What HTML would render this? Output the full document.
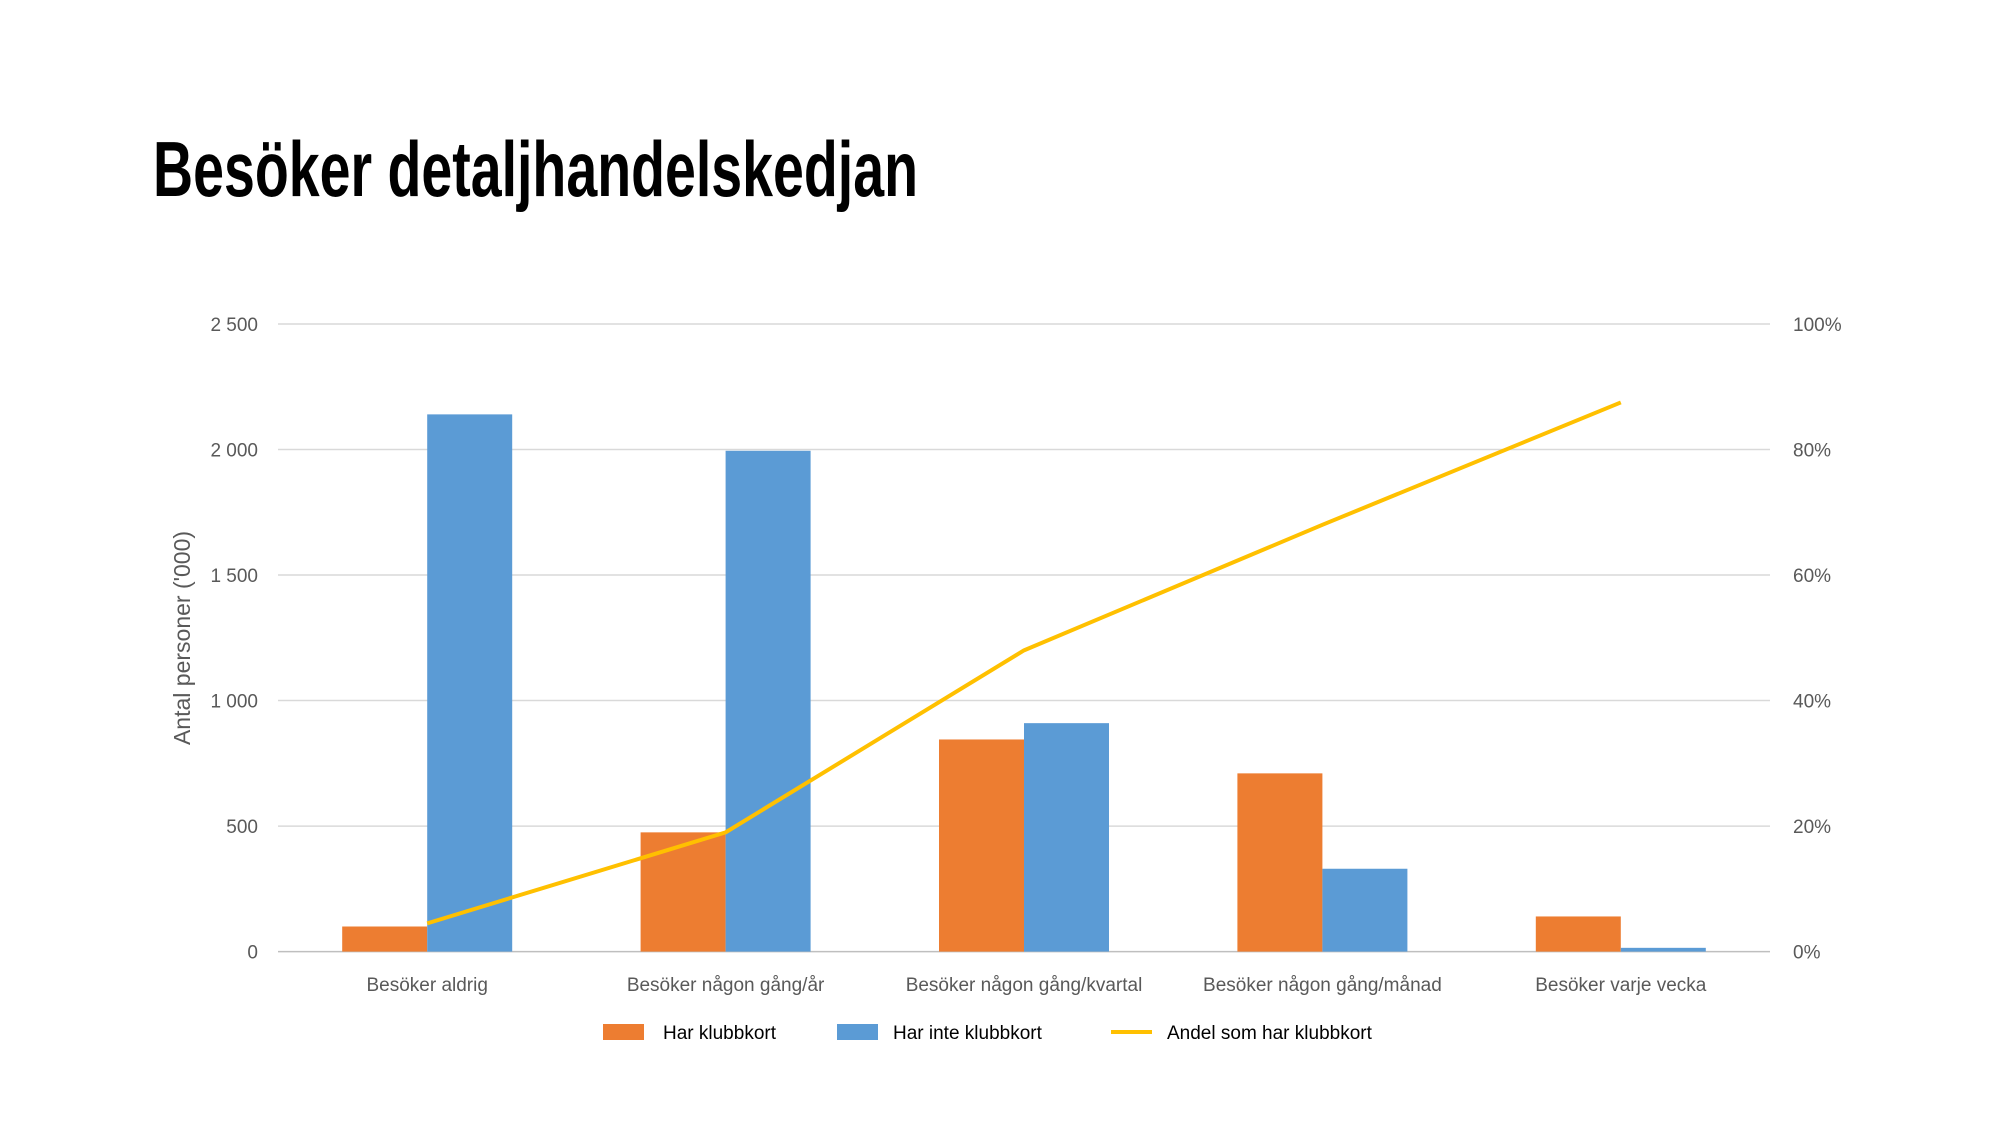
<!DOCTYPE html>
<html><head><meta charset="utf-8"><style>
html,body{margin:0;padding:0;background:#fff;}
svg{display:block;font-family:"Liberation Sans","DejaVu Sans",sans-serif;}
</style></head><body>
<svg id="chart" width="2000" height="1125" viewBox="0 0 2000 1125">
<text x="153" y="196" font-family="'Liberation Sans Narrow','Liberation Sans',sans-serif" font-weight="bold" font-size="78" textLength="765" lengthAdjust="spacingAndGlyphs" fill="#000">Besöker detaljhandelskedjan</text>
<text transform="translate(190,638) rotate(-90)" text-anchor="middle" font-size="23" fill="#595959">Antal personer ('000)</text>
<g id="grid"></g><g id="bars"></g><g id="line"></g><g id="labels"></g>
<g>
<rect x="603" y="1024" width="41" height="16" fill="#ED7D31"/>
<text x="663" y="1039" font-size="19" fill="#000">Har klubbkort</text>
<rect x="837" y="1024" width="41" height="16" fill="#5B9BD5"/>
<text x="893" y="1039" font-size="19" fill="#000">Har inte klubbkort</text>
<line x1="1111" y1="1032" x2="1152" y2="1032" stroke="#FFC000" stroke-width="4"/>
<text x="1167" y="1039" font-size="19" fill="#000">Andel som har klubbkort</text>
</g>
</svg>
<script>
const categories=["Besöker aldrig","Besöker någon gång/år","Besöker någon gång/kvartal","Besöker någon gång/månad","Besöker varje vecka"];
const harKlubbkort=[100,475,845,710,140];
const harInteKlubbkort=[2140,1995,910,330,15];
const andel=[4.5,19,48,68,87.5];
const leftTicks=[0,500,1000,1500,2000,2500];
const leftTickLabels=["0","500","1 000","1 500","2 000","2 500"];
const rightTicks=[0,20,40,60,80,100];
const rightTickLabels=["0%","20%","40%","60%","80%","100%"];
const NS="http://www.w3.org/2000/svg";
const X0=278,X1=1770,Y0=951.6,Y1=324;
const yL=v=>Y0-(v/2500)*(Y0-Y1);
const yR=v=>Y0-(v/100)*(Y0-Y1);
const band=(X1-X0)/categories.length;
const xc=i=>X0+band*(i+0.5);
const bw=85;
function mk(tag,attrs,parent){const e=document.createElementNS(NS,tag);for(const k in attrs)e.setAttribute(k,attrs[k]);parent.appendChild(e);return e;}
const grid=document.getElementById('grid'),bars=document.getElementById('bars'),line=document.getElementById('line'),labels=document.getElementById('labels');
leftTicks.forEach((t,i)=>{
 const l=mk('line',{x1:X0,x2:X1,y1:yL(t),y2:yL(t),stroke:i==0?'#BFBFBF':'#D9D9D9','stroke-width':1.5},grid);
 
 
 const tx=mk('text',{x:258,y:yL(t)+7,'text-anchor':'end','font-size':19,fill:'#595959'},labels);
 tx.textContent=leftTickLabels[i];
 
 
});
rightTicks.forEach((t,i)=>{
 const tx=mk('text',{x:1793,y:yR(t)+7,'font-size':19,fill:'#595959'},labels);
 tx.textContent=rightTickLabels[i];
 
 
});
categories.forEach((c,i)=>{
 const a=mk('rect',{x:xc(i)-bw,y:yL(harKlubbkort[i]),width:bw,height:Y0-yL(harKlubbkort[i]),fill:'#ED7D31'},bars);
 
 
 const b=mk('rect',{x:xc(i),y:yL(harInteKlubbkort[i]),width:bw,height:Y0-yL(harInteKlubbkort[i]),fill:'#5B9BD5'},bars);
 
 
 const tx=mk('text',{x:xc(i),y:991,'text-anchor':'middle','font-size':19,fill:'#595959'},labels);
 tx.textContent=c;
 
 
});
const pts=andel.map((v,i)=>xc(i)+','+yR(v)).join(' ');
const pl=mk('polyline',{points:pts,fill:'none',stroke:'#FFC000','stroke-width':4,'stroke-linejoin':'round'},line);


</script>
</body></html>
